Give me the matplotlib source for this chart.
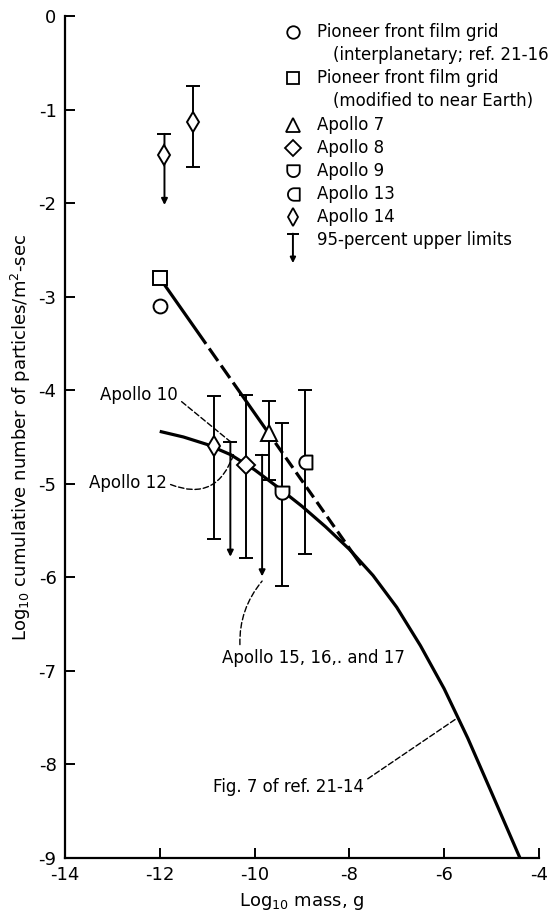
"""Cumulative meteoroid flux versus mass: Pioneer and Apollo window data."""

import matplotlib
matplotlib.use("Agg")
import matplotlib.pyplot as plt
import numpy as np
from matplotlib.path import Path

plt.rcParams["font.family"] = ["Liberation Sans Narrow", "DejaVu Sans"]
plt.rcParams["mathtext.default"] = "regular"
plt.rcParams["axes.unicode_minus"] = False
plt.rcParams["lines.scale_dashes"] = False

# Fig. 7 of ref. 21-14 (model curve)
curve_x = [-12.0, -11.5, -11.0, -10.5, -10.0, -9.5, -9.0, -8.5, -8.0, -7.5,
           -7.0, -6.5, -6.0, -5.5, -5.0, -4.7, -4.4]
curve_y = [-4.44, -4.50, -4.58, -4.69, -4.85, -5.04, -5.24, -5.46, -5.70, -5.98,
           -6.32, -6.73, -7.19, -7.72, -8.30, -8.65, -9.00]

# Pioneer front film grid
pioneer_interp = (-12.0, -3.1)
pioneer_near_earth = (-12.0, -2.8)
pioneer_line_x = [-12.0, -7.75]
pioneer_line_y = [-2.8, -5.87]

# Apollo windows: value, upper and lower 95-percent bounds
apollo7 = dict(x=[-9.69], y=[-4.46], hi=[-4.12], lo=[-4.96])
apollo8 = dict(x=[-10.17], y=[-4.80], hi=[-4.05], lo=[-5.79])
apollo9 = dict(x=[-9.43], y=[-5.10], hi=[-4.35], lo=[-6.09])
apollo13 = dict(x=[-8.93], y=[-4.77], hi=[-4.00], lo=[-5.75])
apollo14 = dict(x=[-11.3, -10.85], y=[-1.13, -4.60], hi=[-0.75, -4.06], lo=[-1.61, -5.59])

# 95-percent upper limits (cap on top, arrow pointing down)
limit_x = [-11.9, -10.51, -9.84]
limit_top = [-1.26, -4.55, -4.69]
limit_tip = [-2.02, -5.78, -5.99]
limit_14_y = [-1.49]  # Apollo 14 point sitting on the first limit bar


def rounded_marker(round_side):
    """Closed marker with one rounded side and a flat opposite side."""
    t = np.radians(np.linspace(90, 270, 25))
    arc = np.column_stack([0.1 + 0.9 * np.cos(t), 0.9 * np.sin(t)])
    verts = np.vstack([arc, [[0.9, -0.9], [0.9, 0.9]], arc[:1]])
    if round_side == "bottom":
        verts = verts[:, ::-1]
    return Path(verts, closed=True)


apollo9_marker = rounded_marker("bottom")
apollo13_marker = rounded_marker("left")

fig = plt.figure(figsize=(5.55, 9.14), dpi=100)
ax = fig.add_axes([0.117, 0.0613, 0.854, 0.9212])

black = "black"
fs = 12

# model curve and Pioneer line
ax.plot(curve_x, curve_y, color=black, lw=2.3, solid_capstyle="butt", solid_joinstyle="round")
ax.plot(pioneer_line_x, pioneer_line_y, color=black, lw=2.3,
        linestyle=(0, (58, 4, 11, 4, 11, 4, 49, 4, 9, 4, 9, 4, 9, 4, 9, 4, 9, 4, 9, 4, 9, 4)))

open_mk = dict(mfc="white", mec=black, mew=1.4, linestyle="none", zorder=5)
ax.plot(*pioneer_interp, marker="o", ms=10, **open_mk)
ax.plot(*pioneer_near_earth, marker="s", ms=10, **open_mk)

bar_kw = dict(fmt="none", ecolor=black, elinewidth=1.4, capsize=5, capthick=1.4, zorder=3)


def two_sided(d, marker, ms):
    y = np.array(d["y"])
    err = [y - np.array(d["lo"]), np.array(d["hi"]) - y]
    ax.errorbar(d["x"], y, yerr=err, **bar_kw)
    ax.plot(d["x"], y, marker=marker, ms=ms, **open_mk)


two_sided(apollo7, "^", 11)
two_sided(apollo8, "D", 9)
two_sided(apollo9, apollo9_marker, 10)
two_sided(apollo13, apollo13_marker, 10)
two_sided(apollo14, "d", 10)

for x, top, tip in zip(limit_x, limit_top, limit_tip):
    ax.plot([x], [top], marker="_", ms=10, mew=1.4, color=black)
    ax.annotate("", xy=(x, tip), xytext=(x, top),
                arrowprops=dict(arrowstyle="-|>", lw=1.4, color=black,
                                mutation_scale=9, shrinkA=0, shrinkB=0))
ax.plot(limit_x[:1], limit_14_y, marker="d", ms=10, **open_mk)

# leader lines and labels
lead = dict(arrowstyle="-", lw=1.0, linestyle=(0, (4, 2)), color=black,
            shrinkA=1, shrinkB=0)
ax.annotate("Apollo 10", xy=(limit_x[1], limit_top[1]), xytext=(-13.26, -4.05),
            fontsize=fs, va="center", ha="left",
            arrowprops=dict(relpos=(1.0, 0.3), **lead))
ax.annotate("Apollo 12", xy=(limit_x[1] + 0.08, -4.67), xytext=(-13.5, -4.99),
            fontsize=fs, va="center", ha="left",
            arrowprops=dict(relpos=(1.0, 0.5), connectionstyle="arc3,rad=0.55", **lead))
ax.annotate("Apollo 15, 16,. and 17", xy=(limit_x[2], limit_tip[2] - 0.05),
            xytext=(-10.69, -6.86), fontsize=fs, va="center", ha="left",
            arrowprops=dict(relpos=(0.1, 1.0), connectionstyle="arc3,rad=-0.2", **lead))
ax.annotate("Fig. 7 of ref. 21-14", xy=(-5.71, -7.5), xytext=(-10.88, -8.24),
            fontsize=fs, va="center", ha="left",
            arrowprops=dict(relpos=(1.0, 0.8), **lead))

# hand-drawn style legend in the upper right
rows = [
    ("o", "Pioneer front film grid"),
    (None, "(interplanetary; ref. 21-16"),
    ("s", "Pioneer front film grid"),
    (None, "(modified to near Earth)"),
    ("^", "Apollo 7"),
    ("D", "Apollo 8"),
    (apollo9_marker, "Apollo 9"),
    (apollo13_marker, "Apollo 13"),
    ("d", "Apollo 14"),
    ("limit", "95-percent upper limits"),
]
mk_size = {"o": 9, "s": 9, "^": 10, "D": 8}
for i, (mk, label) in enumerate(rows):
    yy = 0.981 - i * 0.0275
    if mk is None:
        ax.text(0.565, yy, label, transform=ax.transAxes, fontsize=fs, va="center")
        continue
    ax.text(0.532, yy, label, transform=ax.transAxes, fontsize=fs, va="center")
    if mk == "limit":
        ax.plot([0.481], [yy + 0.008], marker="_", ms=9, mew=1.4,
                color=black, transform=ax.transAxes)
        ax.annotate("", xy=(0.481, yy - 0.027), xytext=(0.481, yy + 0.008),
                    xycoords="axes fraction",
                    arrowprops=dict(arrowstyle="-|>", lw=1.4, color=black,
                                    mutation_scale=8, shrinkA=0, shrinkB=0))
    else:
        ax.plot([0.481], [yy], marker=mk, ms=mk_size.get(mk, 9), mfc="white",
                mec=black, mew=1.3, transform=ax.transAxes, clip_on=False)

ax.set_xlim(-14, -4)
ax.set_ylim(-9, 0)
ax.set_xticks(range(-14, -3, 2))
ax.set_yticks(range(-9, 1))
for side in ("top", "right"):
    ax.spines[side].set_visible(False)
for side in ("left", "bottom"):
    ax.spines[side].set_linewidth(1.6)
ax.tick_params(direction="in", length=7, width=1.4, labelsize=fs + 1, pad=6)

ax.set_xlabel("Log$_{10}$ mass, g", fontsize=fs + 1, labelpad=5)
ax.set_ylabel("Log$_{10}$ cumulative number of particles/m$^2$-sec", fontsize=fs + 1, labelpad=4)

fig.savefig("out.png", dpi=100)
